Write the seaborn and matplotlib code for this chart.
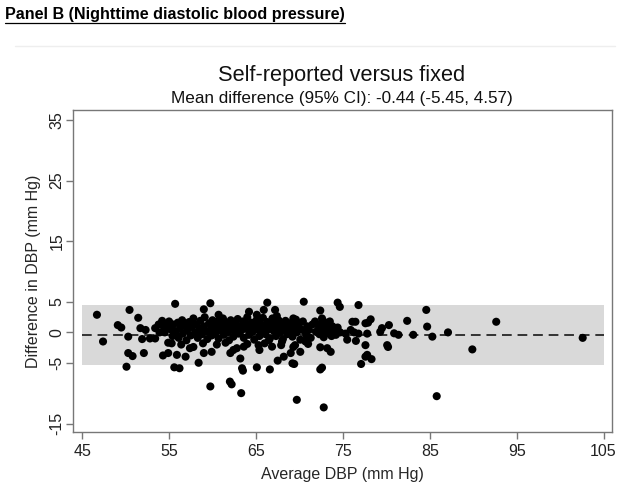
import seaborn as sns
import matplotlib.pyplot as plt
from matplotlib.lines import Line2D
import pandas as pd

sns.set_theme(style='white')
plt.rcParams['font.family'] = ['Liberation Sans', 'DejaVu Sans']

# limits of agreement from the subtitle
mean_diff = -0.44
lower_loa = -5.45
upper_loa = 4.57

# average DBP (x) and difference in DBP (y)
avg_dbp = [
    # sparse left part
    46.7, 47.4, 49.1, 49.5, 50.45, 50.3, 50.3, 50.8, 50.1, 51.45, 52.1, 51.7, 52.3, 51.9,
    52.8, 53.4, 53.4, 53.8, 54.2, 54.4, 54.7, 54.9, 55.0, 53.9, 54.5, 54.3, 54.9, 54.9,
    # 55-65 outliers
    55.7, 59.75, 59.0, 60.7, 64.2, 65.1, 55.9, 56.9, 57.4, 57.8, 59.0, 59.9, 58.4, 55.6,
    56.2, 59.75, 62.0, 62.2, 63.3, 63.2, 63.4, 63.5, 65.1, 62.05, 62.4, 62.8, 63.6,
    # 65-75 outliers
    66.3, 70.5, 74.4, 74.65, 65.9, 67.2, 67.4, 72.4, 69.3, 71.8, 72.6, 73.1, 73.3, 65.3,
    65.4, 66.5, 66.85, 68.0, 69.5, 69.3, 70.1, 69.0, 68.2, 67.5, 69.2, 69.4, 66.6, 72.4,
    72.6, 72.4, 73.2, 73.6, 70.7, 69.7, 72.8,
    # right part
    76.8, 84.6, 76.1, 76.45, 77.6, 77.9, 78.2, 80.3, 79.5, 79.3, 82.4, 84.7, 80.9, 81.4,
    83.1, 85.3, 74.7, 75.3, 75.5, 75.9, 76.3, 76.5, 76.8, 77.8, 77.6, 80.1, 80.2, 77.6,
    77.8, 78.3, 77.1, 85.8, 87.1, 89.9, 92.65, 102.6,
    # dense core
    55.2, 55.4, 55.5, 55.8, 56.0, 56.1, 56.3, 56.5, 56.6, 56.8, 57.0, 57.1, 57.3, 57.5, 57.6,
    57.8, 58.0, 58.1, 58.3, 58.5, 58.6, 58.8, 59.0, 59.1, 59.3, 59.4, 59.6, 59.8, 59.9, 60.0,
    60.2, 60.3, 60.4, 60.6, 60.7, 60.9, 61.0, 61.2, 61.3, 61.4, 61.6, 61.7, 61.9, 62.0, 62.1,
    62.3, 62.4, 62.6, 62.7, 62.9, 63.0, 63.2, 63.3, 63.5, 63.6, 63.8, 63.9, 64.0, 64.2, 64.3,
    64.5, 64.6, 64.8, 64.9, 65.1, 65.2, 65.4, 65.5, 65.7, 65.8, 66.0, 66.1, 66.3, 66.4, 66.6,
    66.7, 66.9, 67.0, 67.2, 67.3, 67.5, 67.6, 67.8, 68.0, 68.1, 68.3, 68.4, 68.6, 68.7, 68.9,
    69.1, 69.2, 69.4, 69.6, 69.7, 69.9, 70.1, 70.2, 70.4, 70.6, 70.8, 70.9, 71.1, 71.3, 71.5,
    71.9, 72.2, 72.3, 72.5, 72.7, 72.8, 72.9, 73.1, 73.2, 73.4, 73.5, 73.7, 73.8, 74.0, 74.2, 74.4,
    55.3, 56.4, 58.9, 60.5, 61.5, 64.0, 66.0, 67.9, 71.0,
]
diff_dbp = [
    2.9, -1.5, 1.2, 0.8, 3.7, -0.7, -3.4, -3.9, -5.65, 2.4, -3.4, 0.7, 0.4, -1.1,
    -1.0, -1.0, 0.7, 1.3, 1.9, 0.9, 1.4, 0.8, 1.8, 0.0, 0.0, -3.8, -3.4, -1.7,
    4.7, 4.8, 3.8, 2.9, 3.4, 2.9, -3.7, -4.0, -2.6, -2.4, -3.4, -3.2, -5.0, -5.75,
    -5.9, -8.9, -8.1, -8.55, -10.0, -4.3, -5.9, -6.3, -5.75, -3.4, -2.9, -2.6, -2.35,
    4.9, 5.05, 4.9, 4.2, 3.7, 3.7, 2.7, 3.6, 2.3, 1.8, 2.3, 1.6, 1.2, -2.1,
    -2.9, -1.25, -2.35, -1.5, -2.1, -2.4, -3.2, -3.4, -4.0, -4.65, -5.1, -5.2, -6.1, -6.1,
    -5.8, -2.45, -2.6, -3.2, -1.5, -11.1, -12.35,
    4.5, 3.7, 1.75, 1.75, 1.5, 1.6, 2.15, 1.2, 0.7, 0.1, 1.9, 0.95, -0.15, -0.4,
    -0.4, -0.7, 0.0, -0.2, -1.2, 0.4, 0.0, -1.4, -0.2, -0.2, -2.1, -2.1, -2.4, -4.0,
    -3.7, -4.4, -5.2, -10.5, 0.0, -2.8, 1.75, -0.9,
    0.5, -0.6, 1.3, 0.2, 1.6, -0.9, 0.8, 2.0, -0.2, 1.1, -1.3, 0.4, 1.7, -0.5, 0.9,
    2.3, 0.0, 1.3, -0.9, 0.6, 1.9, -0.3, 1.0, 2.5, 0.2, -1.1, 1.5, 0.5, -0.5, 2.0,
    1.1, -0.2, 0.7, 1.8, -1.0, 0.3, 1.4, 2.3, -0.4, 0.8, 1.6, 0.0, -1.3, 1.1, 2.0,
    0.4, -0.7, 1.4, 0.8, 2.2, -0.2, 1.0, 0.3, 1.8, -0.9, 0.6, 1.3, 2.5, -0.4, 0.9,
    1.6, 0.1, -1.2, 1.1, 2.1, 0.5, -0.6, 1.4, 0.2, 2.4, 0.9, -0.3, 1.7, 0.5, -1.0,
    1.2, 2.3, 0.3, 1.6, -0.6, 0.9, 2.0, 0.0, 1.3, -1.1, 0.6, 1.9, -0.3, 1.0, 0.2,
    1.6, -0.7, 0.8, 2.1, 0.0, 1.2, -1.2, 0.5, 1.8, 0.2, -0.5, 1.0, 0.4, -0.9, 1.3,
    0.1, 1.1, -0.3, 0.6, 1.7, -0.8, 0.3, 0.9, -0.1, 0.5, 1.8, -0.6, 1.0, 0.2, -0.4, 0.8,
    -1.8, -2.0, -1.8, -2.0, -1.7, -1.9, -1.8, -2.1, -1.9,
]

x_ticks = [45, 55, 65, 75, 85, 95, 105]
y_ticks = [-15, -5, 0, 5, 15, 25, 35]

df = pd.DataFrame({'avg': avg_dbp, 'diff': diff_dbp})

fig = plt.figure(figsize=(6.26, 4.98), dpi=100)
ax = fig.add_axes([0.116, 0.1325, 0.862, 0.6465])

# 95% limits band and mean line
ax.fill_between([45, 105], lower_loa, upper_loa, color='#d9d9d9', lw=0, zorder=0)
ax.plot([45, 105], [mean_diff, mean_diff], color='#333333', lw=1.4,
        ls=(0, (5, 3)), zorder=1)

sns.scatterplot(data=df, x='avg', y='diff', color='black', s=34,
                edgecolor='none', ax=ax, zorder=2)

ax.set_xlim(43.9, 106)
ax.set_ylim(-16.4, 36.6)
ax.set_xticks(x_ticks)
ax.set_yticks(y_ticks)
ax.set_yticklabels([str(t) for t in y_ticks], rotation=90, va='center')
ax.set_xlabel('Average DBP (mm Hg)', fontsize=11.5, labelpad=6)
ax.set_ylabel('Difference in DBP (mm Hg)', fontsize=11.5, labelpad=6)
ax.tick_params(direction='out', length=5, width=1, color='#777777',
               labelsize=11.5, labelcolor='#222222', bottom=True, left=True)
ax.tick_params(axis='y', pad=1)
for sp in ax.spines.values():
    sp.set_color('#777777')
    sp.set_linewidth(1)

# titles
fig.text(0.546, 0.849, 'Self-reported versus fixed', ha='center', va='center',
         fontsize=15.7, color='#111111')
fig.text(0.546, 0.803, 'Mean difference (95% CI): -0.44 (-5.45, 4.57)',
         ha='center', va='center', fontsize=12.3, color='#111111')

# panel header, underlined
fig.text(0.008, 1 - 14 / 498, 'Panel B (Nighttime diastolic blood pressure)',
         ha='left', va='center', fontsize=11.6, weight='bold', color='black')
fig.add_artist(Line2D([5 / 626, 345 / 626], [1 - 23 / 498, 1 - 23 / 498],
                      color='black', lw=0.9))
fig.add_artist(Line2D([15 / 626, 615 / 626], [1 - 46 / 498, 1 - 46 / 498],
                      color='#eeeeee', lw=1))

plt.savefig('out.png', dpi=100)
